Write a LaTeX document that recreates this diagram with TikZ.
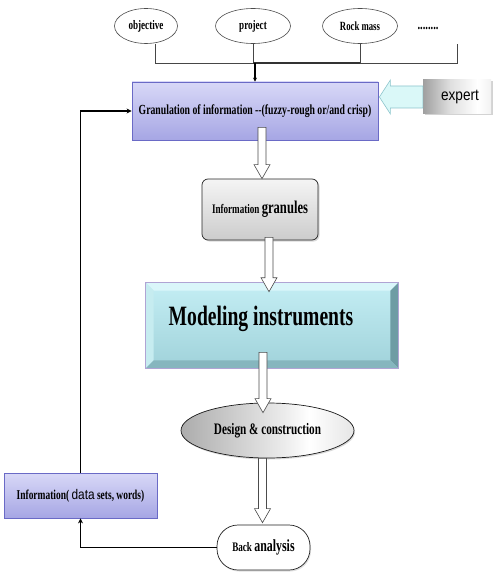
\documentclass[tikz,border=0pt]{standalone}
\usepackage{fontspec}
\setmainfont{Liberation Serif}
\newfontfamily\cond[FakeStretch=0.7]{Liberation Serif}
\newfontfamily\sansn[FakeStretch=0.85]{Liberation Sans}
\usetikzlibrary{shapes.geometric,arrows.meta,calc,shadows}

\definecolor{lavtop}{HTML}{D8D8F7}
\definecolor{lavbot}{HTML}{A6A6E4}
\definecolor{lavdraw}{HTML}{6A6AC6}
\definecolor{cyanl}{HTML}{DAF8F8}
\definecolor{cyand}{HTML}{8CC4CC}
\definecolor{facetop}{HTML}{C4EEF4}
\definecolor{facebot}{HTML}{A0D2DA}
\definecolor{bevtop}{HTML}{DAF6FA}
\definecolor{bevleft}{HTML}{C6ECF0}
\definecolor{bevright}{HTML}{6E9CA4}
\definecolor{bevbot}{HTML}{86B6BE}
\definecolor{bevdraw}{HTML}{B0A4D4}

\pgfdeclarehorizontalshading{expsh}{100bp}{color(0bp)=(gray!75); color(25bp)=(gray!75); color(45bp)=(gray!25); color(65bp)=(white); color(75bp)=(gray!10); color(100bp)=(gray!85)}
\pgfdeclarehorizontalshading{dessh}{100bp}{color(0bp)=(gray!65); color(25bp)=(gray!65); color(55bp)=(gray!15); color(62bp)=(white); color(75bp)=(gray!20); color(100bp)=(gray!60)}

\newcommand{\harrow}[2]{%
  \draw[hollow] let \p1=(#1), \p2=(#2) in
    (\x1-4pt,\y1) -- (\x1+4pt,\y1) -- (\x1+4pt,\y2+14pt) -- (\x1+8pt,\y2+14pt)
    -- (\x1,\y2) -- (\x1-8pt,\y2+14pt) -- (\x1-4pt,\y2+14pt) -- cycle;}

\tikzset{
  ell/.style={ellipse, draw=gray!60!black, fill=white, line width=0.6pt, inner sep=0pt,
    minimum height=35, font=\cond\bfseries\fontsize{13}{15}\selectfont},
  bus/.style={draw=gray!55!black, line width=0.8pt},
  blk/.style={draw=black, line width=1.8pt, -{Stealth[length=5pt,width=5pt]}},
  lavbox/.style={rectangle, draw=lavdraw, line width=0.8pt, top color=lavtop, bottom color=lavbot, inner sep=0pt},
  hollow/.style={draw=gray!60!black, fill=white, line width=0.6pt, line join=miter},
  sm/.style={font=\cond\bfseries\fontsize{13.9}{15}\selectfont},
}

\begin{document}
\begin{tikzpicture}[x=1pt,y=-1pt]
\useasboundingbox (0,0) rectangle (493,572);

% top ellipses
\node[ell, minimum width=63] (obj) at (146,26) {objective};
\node[ell, minimum width=75] (proj) at (253,26) {project};
\node[ell, minimum width=75] (rock) at (360,26) {\fontsize{12.5}{15}\selectfont Rock mass};
\node[font=\cond\bfseries\fontsize{15}{16}\selectfont] (dots) at (428,28) {........};
\coordinate (busL) at (155,63);
\coordinate (busR) at (457,63);
\coordinate (dotsend) at (457,44);
\coordinate (j) at (255,63);

% main boxes
\node[lavbox, minimum width=246, minimum height=58, sm] (gran) at (255,111) {Granulation of information --(fuzzy-rough or/and crisp)};
\node[rectangle, shading=expsh, minimum width=68, minimum height=34, inner sep=0pt,
  drop shadow={shadow xshift=1.5pt, shadow yshift=-1.5pt, opacity=0.35},
  font=\sansn\fontsize{16}{18}\selectfont] (expert) at (457,97) {\hspace*{6pt}expert};

\node[rectangle, rounded corners=6, draw=gray!30!black, line width=0.7pt, top color=gray!8, bottom color=gray!40,
  minimum width=116, minimum height=61, inner sep=0pt,
  drop shadow={shadow xshift=1.5pt, shadow yshift=-1.5pt, opacity=0.3}] (gra) at (260,209.5)
  {\cond\bfseries\fontsize{13}{15}\selectfont Information \fontsize{18}{20}\selectfont granules};

% modeling instruments (bevelled)
\node[rectangle, draw=bevdraw, line width=0.6pt, top color=facetop, bottom color=facebot,
  minimum width=252, minimum height=85, inner sep=0pt] (model) at (272,325.5) {};
\fill[bevtop] (model.north west) -- (model.north east) -- ++(-8,8) -- ($(model.north west)+(8,8)$) -- cycle;
\fill[bevleft] (model.north west) -- ($(model.north west)+(8,8)$) -- ($(model.south west)+(8,-8)$) -- (model.south west) -- cycle;
\fill[bevright] (model.north east) -- (model.south east) -- ++(-8,-8) -- ($(model.north east)+(-8,8)$) -- cycle;
\fill[bevbot] (model.south west) -- (model.south east) -- ++(-8,-8) -- ($(model.south west)+(8,-8)$) -- cycle;
\draw[bevdraw, line width=0.6pt] (model.north west) rectangle (model.south east);
\node[font=\cond\bfseries\fontsize{28}{30}\selectfont] (modtext) at ($(model.center)+(-11,-7)$) {Modeling instruments};

\node[ellipse, shading=dessh, draw=gray!20!black, line width=0.7pt, minimum width=173, minimum height=55, inner sep=0pt,
  drop shadow={shadow xshift=1pt, shadow yshift=-1.5pt, opacity=0.3},
  font=\cond\bfseries\fontsize{16}{18}\selectfont] (design) at (267.5,430.5) {Design \& construction};

\node[rectangle, rounded corners=21, draw=gray!25!black, line width=0.7pt, fill=white,
  minimum width=93, minimum height=45, inner sep=0pt,
  drop shadow={shadow xshift=1pt, shadow yshift=-1.5pt, opacity=0.25}] (back) at (263.5,547.5)
  {\cond\bfseries\fontsize{13}{15}\selectfont Back \fontsize{17}{19}\selectfont analysis};

\node[lavbox, minimum width=153, minimum height=45] (info) at (80.5,495.5)
  {\cond\bfseries\fontsize{13.5}{15}\selectfont Information( {\sansn\mdseries\fontsize{14}{15}\selectfont data} sets, words)};

% top bus
\draw[bus] ($(obj.south)+(9,0)$) -- (busL) -- (busR) -- (dotsend);
\draw[bus] (proj.south) -- (proj.south |- busL);
\draw[bus] (rock.south) -- (rock.south |- busL);
\draw[draw=black!80, line width=1.2pt] (proj.south |- busL) -- (rock.south |- busL);
\draw[blk, -{Stealth[length=4pt,width=4pt]}, line width=2.2pt] (j) -- (gran.north -| j);

% expert arrow
\draw[fill=cyanl, draw=cyand, line width=0.6pt] let \p1=(expert.west), \p2=(gran.east) in
  (\x1,\y1+11pt) -- (\x2+12pt,\y1+11pt) -- (\x2+12pt,\y1+17pt) -- (\x2+1pt,\y1)
  -- (\x2+12pt,\y1-17pt) -- (\x2+12pt,\y1-11pt) -- (\x1,\y1-11pt) -- cycle;

% hollow flow arrows
\harrow{$(gran.south)+(7,-13)$}{$(gra.north)+(2,0)$}
\harrow{$(gra.south)+(9,-3)$}{$(model.north)+(0,9)$}
\harrow{$(model.south)+(-9,-16)$}{$(design.north)+(0,10)$}
\harrow{$(design.south)+(-5,0)$}{$(back.north)+(0,-2)$}

% feedback loop
\draw[blk] (back.west) -| (info.south);
\draw[blk] (info.north) |- (gran.west);
\end{tikzpicture}
\end{document}
